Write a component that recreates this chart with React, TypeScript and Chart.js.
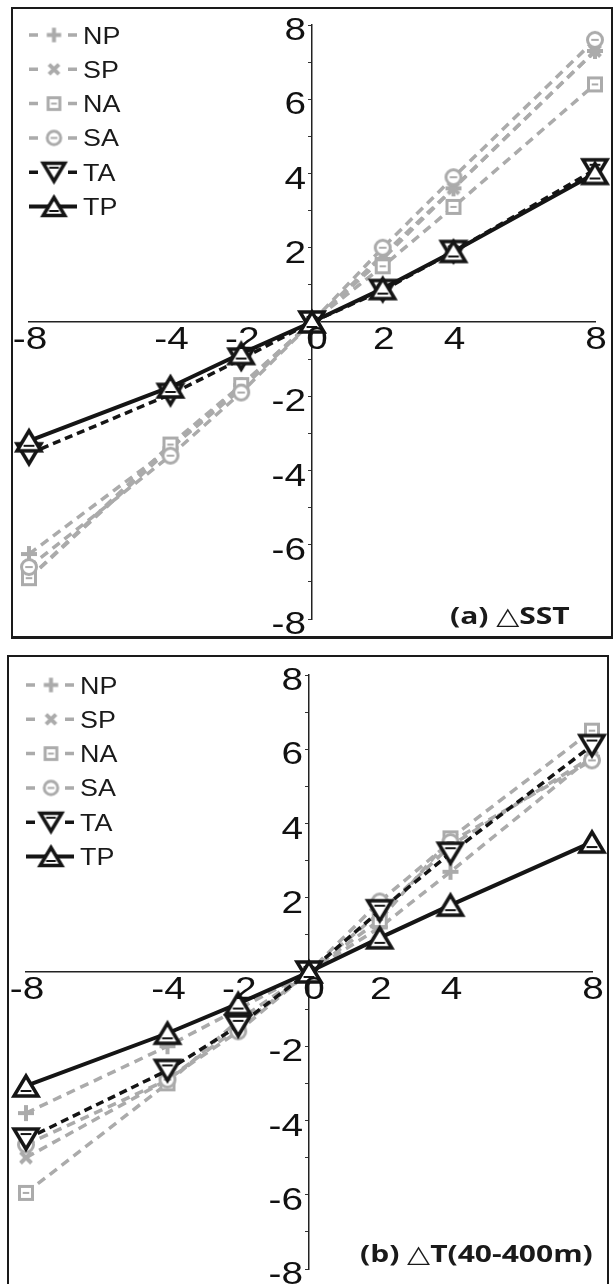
import React, { useEffect, useRef } from 'react';
import { Chart, registerables } from 'chart.js';

Chart.register(...registerables);

// ---------- data ----------
const xValues = [-8, -4, -2, 0, 2, 4, 8];
const xTickValues = [-8, -4, -2, 0, 2, 4, 8];
const yLabelValues = [-8, -6, -4, -2, 2, 4, 6, 8];
const seriesNames = ['NP', 'SP', 'NA', 'SA', 'TA', 'TP'];

// (a) ΔSST
const sstNP = [-6.25, -3.4, -1.7, 0, 1.7, 3.6, 7.3];
const sstSP = [-6.9, -3.4, -1.8, 0, 1.8, 3.6, 7.3];
const sstNA = [-6.9, -3.3, -1.7, 0, 1.5, 3.1, 6.4];
const sstSA = [-6.6, -3.6, -1.9, 0, 2.0, 3.9, 7.6];
const sstTA = [-3.55, -1.95, -1.0, 0, 0.85, 1.9, 4.1];
const sstTP = [-3.2, -1.75, -0.85, 0, 0.9, 1.9, 4.0];

// (b) ΔT(40-400m)
const subNP = [-3.8, -2.0, -1.0, 0, 1.2, 2.7, 5.8];
const subSP = [-5.0, -2.9, -1.5, 0, 1.6, 3.4, 5.8];
const subNA = [-5.95, -3.0, -1.3, 0, 1.4, 3.6, 6.5];
const subSA = [-4.65, -2.9, -1.6, 0, 1.9, 3.5, 5.7];
const subTA = [-4.5, -2.65, -1.45, 0, 1.65, 3.2, 6.1];
const subTP = [-3.07, -1.65, -0.85, 0, 0.92, 1.8, 3.5];

const panelALabel = '(a) \u25B3SST';
const panelBLabel = '(b) \u25B3T(40-400m)';

// ---------- styles ----------
const GREY = '#ababab';
const BLACK = '#151515';
const markerKinds = ['plus', 'cross', 'square', 'circle', 'down', 'up'];
const lineColors = [GREY, GREY, GREY, GREY, BLACK, BLACK];
const lineWidths = [3.5, 3.5, 3.5, 3.5, 3.5, 4];
const lineDashes = [[9, 6], [9, 6], [9, 6], [9, 6], [8, 5], []];
const drawOrder = [5, 4, 3, 2, 1, 0];
const TICK_FONT = '"Liberation Sans", Arial, sans-serif';
const TICK_SIZE = 31;
const TICK_STRETCH = 1.25;
const LEGEND_STRETCH = 1.17;

function makeMarker(kind: string, color: string, k: number): HTMLCanvasElement {
  const size = Math.ceil(32 * k) + 4;
  const c = document.createElement('canvas');
  c.width = size;
  c.height = size;
  const g = c.getContext('2d') as CanvasRenderingContext2D;
  const m = size / 2;
  g.strokeStyle = color;
  g.fillStyle = '#ffffff';
  g.lineJoin = 'miter';
  if (kind === 'plus') {
    const r = 8 * k;
    g.lineWidth = 4;
    g.beginPath();
    g.moveTo(m - r, m); g.lineTo(m + r, m);
    g.moveTo(m, m - r); g.lineTo(m, m + r);
    g.stroke();
  } else if (kind === 'cross') {
    const r = 5.5 * k;
    g.lineWidth = 4;
    g.beginPath();
    g.moveTo(m - r, m - r); g.lineTo(m + r, m + r);
    g.moveTo(m + r, m - r); g.lineTo(m - r, m + r);
    g.stroke();
  } else if (kind === 'square') {
    const r = 6.5 * k;
    g.lineWidth = 3;
    g.fillRect(m - r, m - r, 2 * r, 2 * r);
    g.strokeRect(m - r, m - r, 2 * r, 2 * r);
    g.lineWidth = 2;
    g.beginPath(); g.moveTo(m - r * 0.5, m); g.lineTo(m + r * 0.5, m); g.stroke();
  } else if (kind === 'circle') {
    const r = 7.5 * k;
    g.lineWidth = 3;
    g.beginPath(); g.arc(m, m, r, 0, Math.PI * 2); g.fill(); g.stroke();
    g.lineWidth = 2;
    g.beginPath(); g.moveTo(m - r * 0.5, m); g.lineTo(m + r * 0.5, m); g.stroke();
  } else if (kind === 'down' || kind === 'up') {
    const w = 12 * k;
    const h = 20 * k;
    const s = kind === 'down' ? 1 : -1;
    g.lineWidth = 3.5;
    g.beginPath();
    g.moveTo(m - w, m - s * h / 2);
    g.lineTo(m + w, m - s * h / 2);
    g.lineTo(m, m + s * h / 2);
    g.closePath();
    g.fill();
    g.stroke();
    g.lineWidth = 2;
    const yb = m - s * h / 2 + s * 5 * k;
    g.beginPath(); g.moveTo(m - w * 0.45, yb); g.lineTo(m + w * 0.45, yb); g.stroke();
  }
  return c;
}

function drawStretched(ctx: CanvasRenderingContext2D, text: string, x: number, y: number, align: CanvasTextAlign, sx: number) {
  ctx.save();
  ctx.translate(x, y);
  ctx.scale(sx, 1);
  ctx.textAlign = align;
  ctx.textBaseline = 'alphabetic';
  ctx.fillText(text, 0, 0);
  ctx.restore();
}

const tickLabelPlugin = {
  id: 'paperTickLabels',
  afterDraw(chart: any) {
    const ctx = chart.ctx as CanvasRenderingContext2D;
    const xs = chart.scales.x;
    const ys = chart.scales.y;
    const axisY = ys.getPixelForValue(0);
    const axisX = xs.getPixelForValue(0);
    ctx.save();
    ctx.fillStyle = '#111';
    ctx.font = TICK_SIZE + 'px ' + TICK_FONT;
    xTickValues.forEach((v) => {
      const px = xs.getPixelForValue(v) + (v === 0 ? 5 : 1);
      drawStretched(ctx, String(v), px, axisY + 27, 'center', TICK_STRETCH);
    });
    yLabelValues.forEach((v) => {
      const py = ys.getPixelForValue(v);
      drawStretched(ctx, String(v), axisX - 6, py + 15, 'right', TICK_STRETCH);
    });
    ctx.restore();
  },
};

const legendPlugin = {
  id: 'paperLegend',
  afterDraw(chart: any) {
    const ctx = chart.ctx as CanvasRenderingContext2D;
    const x0 = 29;
    const y0 = 35;
    const dy = 34.3;
    chart.data.datasets.forEach((ds: any, i: number) => {
      const y = y0 + i * dy;
      ctx.save();
      ctx.strokeStyle = ds.borderColor;
      ctx.lineWidth = ds.borderWidth;
      ctx.beginPath();
      if (ds.borderDash && ds.borderDash.length) {
        ctx.moveTo(x0, y); ctx.lineTo(x0 + 9, y);
        ctx.moveTo(x0 + 39, y); ctx.lineTo(x0 + 48, y);
      } else {
        ctx.moveTo(x0, y); ctx.lineTo(x0 + 48, y);
      }
      ctx.stroke();
      const img = ds.legendMarker as HTMLCanvasElement;
      ctx.drawImage(img, x0 + 25 - img.width / 2, y - img.height / 2);
      ctx.fillStyle = '#1a1a1a';
      ctx.font = '23px ' + TICK_FONT;
      drawStretched(ctx, ds.label, x0 + 54, y + 8.5, 'left', LEGEND_STRETCH);
      ctx.restore();
    });
  },
};

function buildConfig(series: number[][]): any {
  const datasets = seriesNames.map((name, i) => ({
    label: name,
    data: xValues.map((x, j) => ({ x, y: series[i][j] })),
    borderColor: lineColors[i],
    backgroundColor: lineColors[i],
    borderWidth: lineWidths[i],
    borderDash: lineDashes[i],
    pointStyle: makeMarker(markerKinds[i], lineColors[i], 1),
    legendMarker: makeMarker(markerKinds[i], lineColors[i], 0.9),
    pointRadius: 9,
    tension: 0,
    fill: false,
    clip: false,
    order: drawOrder[i],
  }));
  return {
    type: 'line',
    data: { datasets },
    options: {
      animation: false,
      responsive: false,
      maintainAspectRatio: false,
      events: [],
      layout: { padding: { left: 29, right: 18, top: 25, bottom: 21 } },
      plugins: { legend: { display: false }, tooltip: { enabled: false }, title: { display: false } },
      scales: {
        x: {
          type: 'linear',
          min: -8,
          max: 8,
          position: { y: 0 },
          afterFit: (s: any) => { s.height = 0; },
          afterBuildTicks: (s: any) => { s.ticks = xTickValues.map((v) => ({ value: v })); },
          ticks: { display: false, autoSkip: false, maxRotation: 0 },
          grid: { drawOnChartArea: false, drawTicks: false },
          border: { display: true, color: '#222', width: 1.5 },
        },
        y: {
          type: 'linear',
          min: -8,
          max: 8,
          position: { x: 0 },
          afterFit: (s: any) => { s.width = 0; },
          ticks: { display: false, stepSize: 1, autoSkip: false },
          grid: { drawOnChartArea: false, drawTicks: true, tickLength: 3, color: '#333', tickWidth: 1 },
          border: { display: true, color: '#222', width: 1.5 },
        },
      },
    },
    plugins: [tickLabelPlugin, legendPlugin],
  };
}

function Panel(props: { series: number[][]; left: number; top: number }) {
  const ref = useRef<HTMLCanvasElement | null>(null);
  useEffect(() => {
    if (!ref.current) return;
    const chart = new Chart(ref.current, buildConfig(props.series));
    return () => chart.destroy();
  }, []);
  return (
    <canvas
      ref={ref}
      width={613}
      height={640}
      style={{ position: 'absolute', left: props.left, top: props.top, width: 613, height: 640, display: 'block' }}
    />
  );
}

const labelStyle: React.CSSProperties = {
  position: 'absolute',
  fontFamily: '"Open Sans", "DejaVu Sans", sans-serif',
  fontWeight: 700,
  fontSize: 24,
  lineHeight: '30px',
  color: '#1a1a1a',
  whiteSpace: 'nowrap',
  transform: 'scaleX(1.25)',
  transformOrigin: '0 0',
};

export default function App() {
  return (
    <div style={{ position: 'absolute', left: 0, top: 0, width: 613, height: 1284, overflow: 'hidden', background: '#fff' }}>
      <div style={{ position: 'absolute', left: 11, top: 7, width: 602, height: 632, boxSizing: 'border-box', borderStyle: 'solid', borderColor: '#1a1a1a', borderWidth: '2px 2px 3px 2px' }} />
      <div style={{ position: 'absolute', left: 7, top: 655, width: 602, height: 634, boxSizing: 'border-box', borderStyle: 'solid', borderColor: '#1a1a1a', borderWidth: '2px 2px 3px 2px' }} />
      <Panel series={[sstNP, sstSP, sstNA, sstSA, sstTA, sstTP]} left={0} top={0} />
      <Panel series={[subNP, subSP, subNA, subSA, subTA, subTP]} left={-3} top={650} />
      <div style={{ ...labelStyle, left: 450, top: 600 }}>{panelALabel}</div>
      <div style={{ ...labelStyle, left: 360, top: 1238 }}>{panelBLabel}</div>
    </div>
  );
}
